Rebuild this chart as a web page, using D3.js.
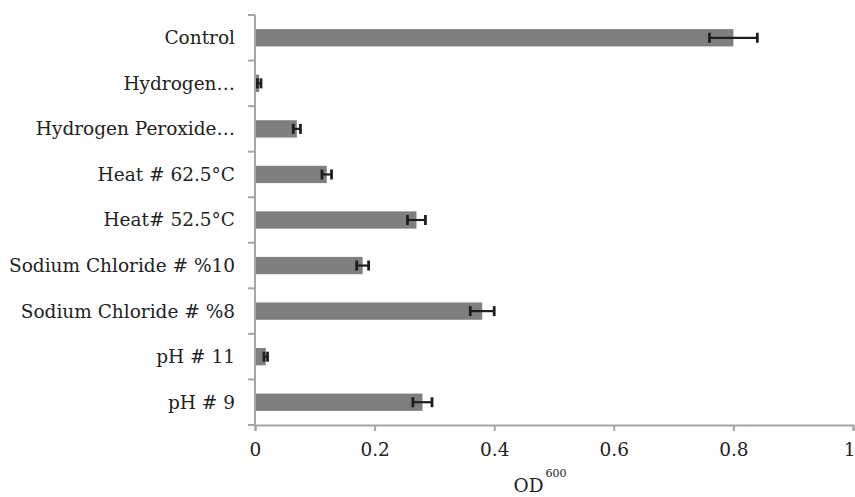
<!DOCTYPE html>
<html>
<head>
<meta charset="utf-8">
<script src="https://cdn.jsdelivr.net/npm/d3@7"></script>
<style>
  body { margin: 0; background: #fff; }
  svg { display: block; }
</style>
</head>
<body>
<div id="chart"></div>
<script>
// categories top to bottom, OD600 means and error (+/-)
var categories = ["Control", "Hydrogen\u2026", "Hydrogen Peroxide\u2026", "Heat # 62.5\u00B0C",
  "Heat# 52.5\u00B0C", "Sodium Chloride # %10", "Sodium Chloride # %8", "pH # 11", "pH # 9"];
var values = [0.80, 0.007, 0.07, 0.12, 0.27, 0.18, 0.38, 0.018, 0.28];
var errors = [0.04, 0.003, 0.006, 0.008, 0.015, 0.01, 0.02, 0.003, 0.016];
var xTicks = [0, 0.2, 0.4, 0.6, 0.8, 1];

var W = 855, H = 497;
var margin = {top: 15, right: 2, bottom: 72, left: 255},
    width = W - margin.left - margin.right,
    height = H - margin.top - margin.bottom;

var font = "DejaVu Serif";
var fontSize = "18.5px";
var axisColor = "#a6a6a6";
var barColor = "#7f7f7f";
var errColor = "#1e1e1e";
var textColor = "#222";

var svg = d3.select("#chart").append("svg")
    .attr("width", W)
    .attr("height", H);

var g = svg.append("g")
    .attr("transform", "translate(" + margin.left + "," + margin.top + ")");

var xScale = d3.scaleLinear().domain([0, 1]).range([0, width]);
var yScale = d3.scaleBand().domain(categories).range([0, height])
    .paddingInner(0.62).paddingOuter(0.31);

// bars
g.selectAll("rect.bar")
  .data(values)
  .enter().append("rect")
    .attr("class", "bar")
    .attr("x", xScale(0))
    .attr("y", function(d, i) { return yScale(categories[i]); })
    .attr("width", function(d) { return xScale(d) - xScale(0); })
    .attr("height", yScale.bandwidth())
    .attr("fill", barColor);

// error bars
var capH = 10;
var err = g.selectAll("g.err")
  .data(values)
  .enter().append("g")
    .attr("class", "err")
    .attr("transform", function(d, i) {
      return "translate(0," + (yScale(categories[i]) + yScale.bandwidth() / 2) + ")";
    });

err.append("line")
    .attr("x1", function(d, i) { return xScale(d - errors[i]); })
    .attr("x2", function(d, i) { return xScale(d + errors[i]); })
    .attr("stroke", errColor)
    .attr("stroke-width", 2.2);

err.append("line")
    .attr("x1", function(d, i) { return xScale(d - errors[i]); })
    .attr("x2", function(d, i) { return xScale(d - errors[i]); })
    .attr("y1", -capH / 2).attr("y2", capH / 2)
    .attr("stroke", errColor)
    .attr("stroke-width", 2.8);

err.append("line")
    .attr("x1", function(d, i) { return xScale(d + errors[i]); })
    .attr("x2", function(d, i) { return xScale(d + errors[i]); })
    .attr("y1", -capH / 2).attr("y2", capH / 2)
    .attr("stroke", errColor)
    .attr("stroke-width", 2.8);

// y axis: labels at band centres, ticks at band edges
var yAxis = g.append("g")
    .call(d3.axisLeft(yScale).tickSize(0).tickPadding(20));
yAxis.attr("font-family", font).attr("font-size", fontSize);
yAxis.select("path.domain").remove();
yAxis.selectAll("text")
    .attr("fill", textColor)
    .attr("dy", "0.35em");

var edges = d3.range(categories.length + 1).map(function(i) { return i * yScale.step(); });
g.selectAll("line.ytick")
  .data(edges)
  .enter().append("line")
    .attr("class", "ytick")
    .attr("x1", -7).attr("x2", 0)
    .attr("y1", function(d) { return d; })
    .attr("y2", function(d) { return d; })
    .attr("stroke", axisColor)
    .attr("stroke-width", 2);

g.append("line")
    .attr("x1", 0).attr("x2", 0)
    .attr("y1", 0).attr("y2", height)
    .attr("stroke", axisColor)
    .attr("stroke-width", 2);

// x axis
var xAxis = g.append("g")
    .attr("transform", "translate(0," + height + ")")
    .call(d3.axisBottom(xScale).tickValues(xTicks).tickSizeOuter(0).tickSize(6)
      .tickPadding(12).tickFormat(d3.format("~g")));
xAxis.attr("font-family", font).attr("font-size", fontSize);
xAxis.select("path.domain")
    .attr("stroke", axisColor)
    .attr("stroke-width", 2);
xAxis.selectAll(".tick line")
    .attr("stroke", axisColor)
    .attr("stroke-width", 2);
xAxis.selectAll("text")
    .attr("fill", textColor)
    .filter(function(d) { return d === 1; })
    .attr("text-anchor", "end")
    .attr("dx", 2);

// x axis title with superscript
var title = svg.append("text")
    .attr("x", margin.left + xScale(0.5) - 14)
    .attr("y", 492)
    .attr("text-anchor", "middle")
    .attr("fill", textColor)
    .attr("font-family", font)
    .attr("font-size", fontSize);
title.append("tspan").text("OD");
title.append("tspan")
    .attr("dy", -15)
    .attr("dx", 2)
    .attr("font-size", "11px")
    .text("600");
</script>
</body>
</html>
